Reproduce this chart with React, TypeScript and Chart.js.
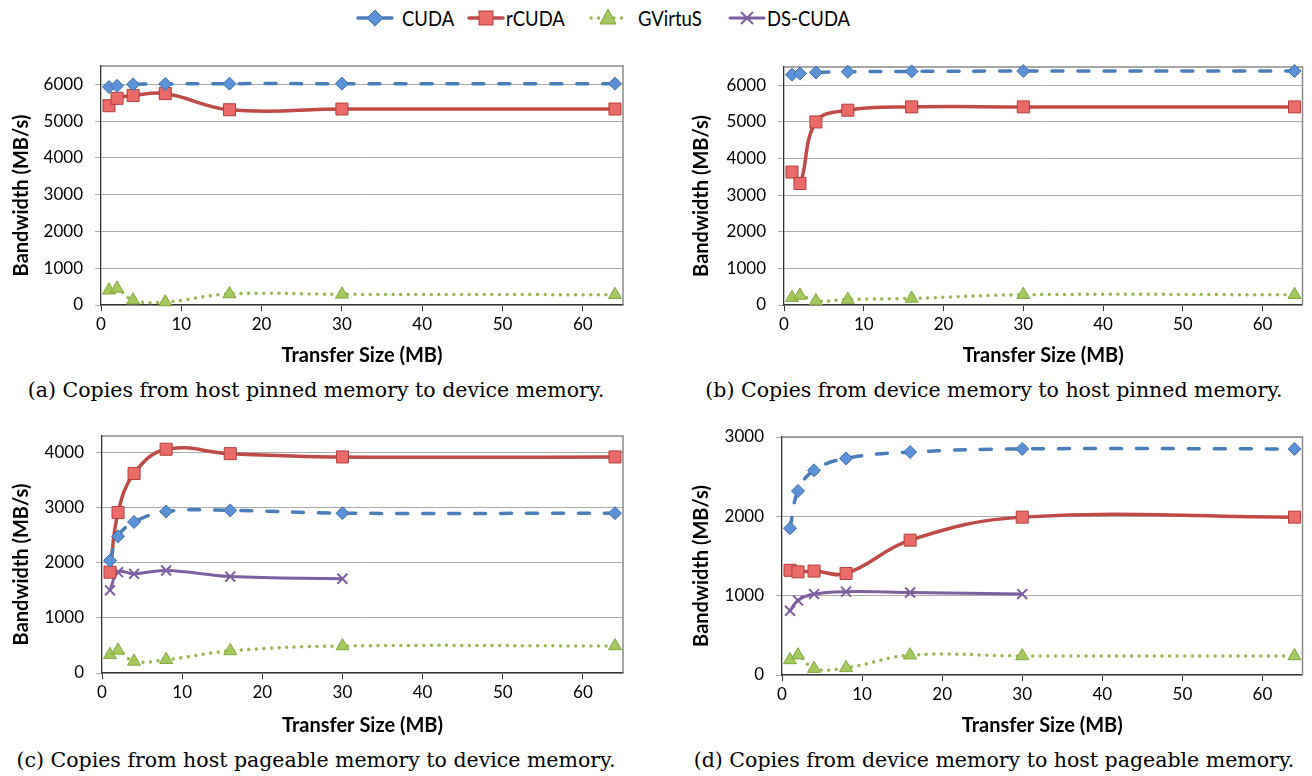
import React, { useEffect, useRef } from "react";
import { Chart, registerables } from "chart.js";

Chart.register(...registerables);

// ---------- data ----------
const seriesNames = ["CUDA", "rCUDA", "GVirtuS", "DS-CUDA"];
const transferSizes = [1, 2, 4, 8, 16, 30, 64];
const transferSizesDs = [1, 2, 4, 8, 16, 30];

const cudaA = [5930, 5960, 6000, 6010, 6020, 6020, 6020];
const rcudaA = [5420, 5620, 5700, 5750, 5310, 5330, 5330];
const gvirtusA = [400, 450, 130, 80, 300, 290, 280];

const cudaB = [6290, 6320, 6350, 6370, 6380, 6390, 6390];
const rcudaB = [3630, 3320, 5000, 5320, 5410, 5410, 5410];
const gvirtusB = [200, 260, 110, 150, 180, 280, 280];

const cudaC = [2040, 2480, 2740, 2930, 2950, 2900, 2900];
const rcudaC = [1830, 2910, 3620, 4060, 3980, 3920, 3920];
const gvirtusC = [330, 410, 210, 240, 400, 490, 490];
const dscudaC = [1500, 1830, 1800, 1860, 1750, 1710];

const cudaD = [1850, 2320, 2580, 2730, 2810, 2850, 2850];
const rcudaD = [1320, 1300, 1310, 1280, 1700, 1990, 1990];
const gvirtusD = [190, 250, 80, 90, 250, 240, 240];
const dscudaD = [810, 940, 1020, 1050, 1040, 1020];

const xTickValues = [0, 10, 20, 30, 40, 50, 60];
const yTicksAB = [0, 1000, 2000, 3000, 4000, 5000, 6000];
const yTicksC = [0, 1000, 2000, 3000, 4000];
const yTicksD = [0, 1000, 2000, 3000];

const xTitle = "Transfer Size (MB)";
const yTitle = "Bandwidth (MB/s)";
const captions = [
  "(a) Copies from host pinned memory to device memory.",
  "(b) Copies from device memory to host pinned memory.",
  "(c) Copies from host pageable memory to device memory.",
  "(d) Copies from device memory to host pageable memory.",
];

// ---------- styles ----------
const seriesStyles = [
  { color: "#4A7EBB", fill: "#5B91D6", pstroke: "#3D70AE", pointStyle: "rectRot", radius: 6.5, dash: [11, 15], width: 3.5, pbw: 1 },
  { color: "#BE4B48", fill: "#EA6B68", pstroke: "#B0403D", pointStyle: "rect", radius: 8.5, dash: [], width: 3.5, pbw: 1 },
  { color: "#98B954", fill: "#A5C85E", pstroke: "#86A742", pointStyle: "triangle", radius: 7.5, dash: [0.01, 7.6], width: 3.5, pbw: 1 },
  { color: "#7D60A0", fill: "#7D60A0", pstroke: "#7D60A0", pointStyle: "crossRot", radius: 7, dash: [], width: 3, pbw: 2 },
];

const FONT = "Lato, 'Open Sans', sans-serif";

function makeDataset(idx: number, xs: number[], ys: number[]) {
  const s = seriesStyles[idx];
  return {
    label: seriesNames[idx],
    data: xs.map((x, i) => ({ x, y: ys[i] })),
    borderColor: s.color,
    borderWidth: s.width,
    borderDash: s.dash,
    borderCapStyle: "round",
    borderJoinStyle: "round",
    tension: 0.4,
    pointStyle: s.pointStyle,
    pointRadius: s.radius,
    pointBackgroundColor: s.fill,
    pointBorderColor: s.pstroke,
    pointBorderWidth: s.pbw,
    clip: false,
    fill: false,
  };
}

const framePlugin = {
  id: "frame",
  beforeDatasetsDraw(chart: any) {
    const { ctx, chartArea } = chart;
    const { left, top, right, bottom } = chartArea;
    ctx.save();
    ctx.strokeStyle = "#8A8A8A";
    ctx.lineWidth = 1.5;
    ctx.beginPath();
    ctx.moveTo(left, top);
    ctx.lineTo(right, top);
    ctx.lineTo(right, bottom);
    ctx.stroke();
    ctx.restore();
  },
};

// y-axis title drawn slightly below the plot's centre, as in the original figure
const yTitlePlugin = {
  id: "yTitleOffset",
  afterDraw(chart: any) {
    const { ctx, chartArea } = chart;
    const cy = (chartArea.top + chartArea.bottom) / 2 + 10;
    ctx.save();
    ctx.translate(11, cy);
    ctx.rotate(-Math.PI / 2);
    ctx.font = `bold 20px ${FONT}`;
    ctx.fillStyle = "#000";
    ctx.textAlign = "center";
    ctx.textBaseline = "middle";
    ctx.fillText(yTitle, 0, 0);
    ctx.restore();
  },
};

type PanelDef = {
  canvasLeft: number;
  canvasTop: number;
  canvasW: number;
  canvasH: number;
  plotLeft: number;
  plotTop: number;
  plotRight: number;
  plotBottom: number;
  yMax: number;
  yTicks: number[];
  datasets: any[];
};

const panels: PanelDef[] = [
  {
    canvasLeft: 11, canvasTop: 40, canvasW: 629, canvasH: 328,
    plotLeft: 101, plotTop: 66, plotRight: 623, plotBottom: 305,
    yMax: 6500, yTicks: yTicksAB,
    datasets: [
      makeDataset(0, transferSizes, cudaA),
      makeDataset(1, transferSizes, rcudaA),
      makeDataset(2, transferSizes, gvirtusA),
    ],
  },
  {
    canvasLeft: 691, canvasTop: 40, canvasW: 621, canvasH: 328,
    plotLeft: 784, plotTop: 67, plotRight: 1305, plotBottom: 305,
    yMax: 6500, yTicks: yTicksAB,
    datasets: [
      makeDataset(0, transferSizes, cudaB),
      makeDataset(1, transferSizes, rcudaB),
      makeDataset(2, transferSizes, gvirtusB),
    ],
  },
  {
    canvasLeft: 11, canvasTop: 408, canvasW: 629, canvasH: 330,
    plotLeft: 102, plotTop: 436, plotRight: 623, plotBottom: 673,
    yMax: 4300, yTicks: yTicksC,
    datasets: [
      makeDataset(0, transferSizes, cudaC),
      makeDataset(1, transferSizes, rcudaC),
      makeDataset(2, transferSizes, gvirtusC),
      makeDataset(3, transferSizesDs, dscudaC),
    ],
  },
  {
    canvasLeft: 691, canvasTop: 408, canvasW: 621, canvasH: 330,
    plotLeft: 782, plotTop: 437, plotRight: 1305, plotBottom: 675,
    yMax: 3000, yTicks: yTicksD,
    datasets: [
      makeDataset(0, transferSizes, cudaD),
      makeDataset(1, transferSizes, rcudaD),
      makeDataset(2, transferSizes, gvirtusD),
      makeDataset(3, transferSizesDs, dscudaD),
    ],
  },
];

function Panel({ def }: { def: PanelDef }) {
  const ref = useRef<HTMLCanvasElement | null>(null);
  useEffect(() => {
    if (!ref.current) return;
    const yW = def.plotLeft - def.canvasLeft;
    const padTop = def.plotTop - def.canvasTop;
    const padRight = def.canvasLeft + def.canvasW - def.plotRight;
    const xH = def.canvasTop + def.canvasH - def.plotBottom;
    const chart = new Chart(ref.current, {
      type: "line",
      data: { datasets: def.datasets },
      plugins: [framePlugin, yTitlePlugin],
      options: {
        responsive: false,
        animation: false,
        devicePixelRatio: 1,
        layout: { padding: { left: 0, top: padTop, right: padRight, bottom: 0 } },
        plugins: { legend: { display: false }, tooltip: { enabled: false } },
        scales: {
          x: {
            type: "linear",
            min: 0,
            max: 65,
            afterBuildTicks: (s: any) => {
              s.ticks = xTickValues.map((v) => ({ value: v }));
            },
            afterFit: (s: any) => {
              s.height = xH;
            },
            ticks: {
              autoSkip: false,
              color: "#000",
              padding: 3,
              maxRotation: 0,
              font: { family: FONT, size: 17 },
              callback: (v: any) => String(v),
            },
            grid: { drawOnChartArea: false, drawTicks: true, tickLength: 6, tickColor: "#333" },
            border: { color: "#333", width: 1.3 },
            title: {
              display: true,
              text: xTitle,
              color: "#000",
              padding: 0,
              font: { family: FONT, size: 20, weight: "bold" },
            },
          },
          y: {
            type: "linear",
            min: 0,
            max: def.yMax,
            afterBuildTicks: (s: any) => {
              s.ticks = def.yTicks.map((v) => ({ value: v }));
            },
            afterFit: (s: any) => {
              s.width = yW;
            },
            ticks: {
              autoSkip: false,
              color: "#000",
              padding: 12,
              font: { family: FONT, size: 17 },
              callback: (v: any) => String(v),
            },
            grid: { color: "#ABABAB", lineWidth: 1, drawTicks: true, tickLength: 6, tickColor: "#ABABAB" },
            border: { color: "#333", width: 1.3 },
            title: { display: false, text: yTitle },
          },
        },
      } as any,
    });
    return () => chart.destroy();
  }, [def]);
  return (
    <canvas
      ref={ref}
      width={def.canvasW}
      height={def.canvasH}
      style={{ position: "absolute", left: def.canvasLeft, top: def.canvasTop, width: def.canvasW, height: def.canvasH }}
    />
  );
}

function LegendIcon({ idx }: { idx: number }) {
  const s = seriesStyles[idx];
  const cx = 20;
  const cy = 10;
  let marker: any = null;
  if (s.pointStyle === "rectRot") {
    marker = <polygon points={`${cx},${cy - 8} ${cx + 8},${cy} ${cx},${cy + 8} ${cx - 8},${cy}`} fill={s.fill} stroke={s.pstroke} strokeWidth={1} />;
  } else if (s.pointStyle === "rect") {
    marker = <rect x={cx - 7} y={cy - 7} width={14} height={14} fill={s.fill} stroke={s.pstroke} strokeWidth={1} />;
  } else if (s.pointStyle === "triangle") {
    marker = <polygon points={`${cx},${cy - 9} ${cx + 8},${cy + 6} ${cx - 8},${cy + 6}`} fill={s.fill} stroke={s.pstroke} strokeWidth={1} />;
  } else {
    marker = (
      <g stroke={s.color} strokeWidth={2}>
        <line x1={cx - 6} y1={cy - 6} x2={cx + 6} y2={cy + 6} />
        <line x1={cx - 6} y1={cy + 6} x2={cx + 6} y2={cy - 6} />
      </g>
    );
  }
  return (
    <svg width={40} height={20} style={{ display: "block" }}>
      <line
        x1={3}
        y1={cy}
        x2={37}
        y2={cy}
        stroke={s.color}
        strokeWidth={s.width}
        strokeLinecap="round"
        strokeDasharray={idx === 2 ? "0.01 7.6" : undefined}
      />
      {marker}
    </svg>
  );
}

const legendIconLefts = [355, 466, 588, 727];
const legendTextLefts = [402, 506, 638, 767];

export default function App() {
  return (
    <div style={{ position: "absolute", left: 0, top: 0, width: 1312, height: 776, background: "#fff", overflow: "hidden" }}>
      {seriesNames.map((name, i) => (
        <React.Fragment key={name}>
          <div style={{ position: "absolute", left: legendIconLefts[i], top: 8 }}>
            <LegendIcon idx={i} />
          </div>
          <div
            style={{
              position: "absolute",
              left: legendTextLefts[i],
              top: 3,
              height: 30,
              lineHeight: "30px",
              fontFamily: FONT,
              fontSize: 22,
              color: "#000",
              whiteSpace: "nowrap",
              transform: "scaleX(0.84)",
              transformOrigin: "left center",
            }}
          >
            {name}
          </div>
        </React.Fragment>
      ))}
      {panels.map((p, i) => (
        <Panel key={i} def={p} />
      ))}
      {captions.map((c, i) => (
        <div
          key={c}
          style={{
            position: "absolute",
            left: i % 2 === 0 ? 0 : 676,
            width: i % 2 === 0 ? 632 : 636,
            textAlign: "center",
            top: i < 2 ? 377 : 747,
            height: 26,
            lineHeight: "26px",
            fontFamily: "'DejaVu Serif', serif",
            fontSize: 20.5,
            color: "#000",
            whiteSpace: "nowrap",
          }}
        >
          {c}
        </div>
      ))}
    </div>
  );
}
